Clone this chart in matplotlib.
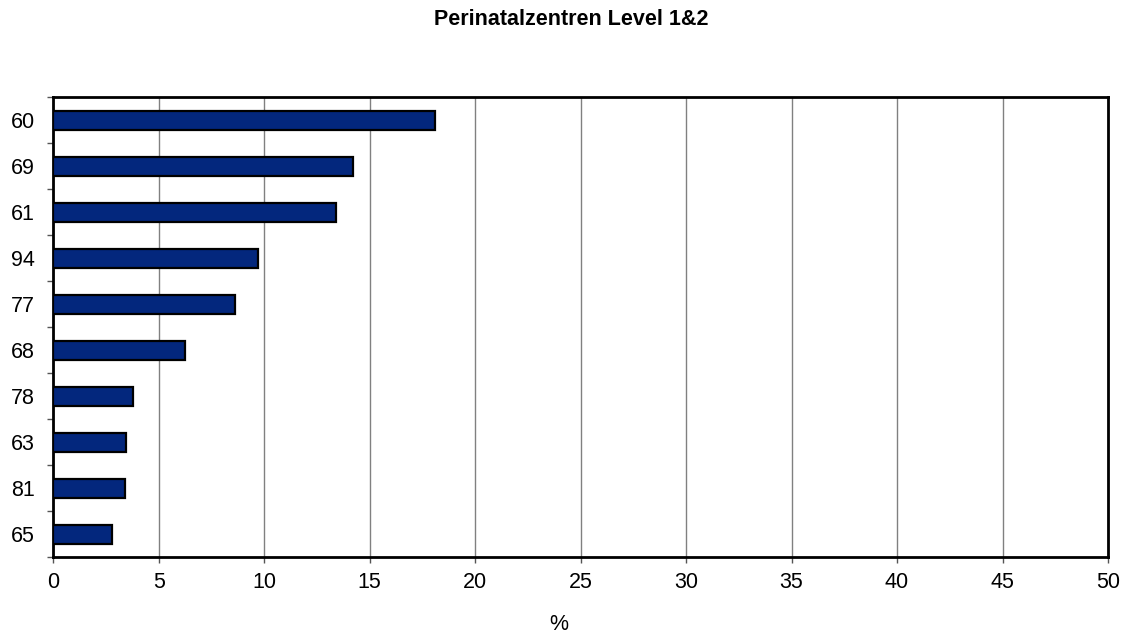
import matplotlib

matplotlib.use("Agg")
import matplotlib.pyplot as plt
import numpy as np
from matplotlib.ticker import FixedLocator

plt.rcParams["font.family"] = ["Liberation Sans", "DejaVu Sans"]

TITLE = "Perinatalzentren Level 1&2"
CATEGORIES = ["60", "69", "61", "94", "77", "68", "78", "63", "81", "65"]
VALUES = [18.1, 14.2, 13.4, 9.7, 8.6, 6.25, 3.8, 3.47, 3.38, 2.78]
X_TICKS = [0, 5, 10, 15, 20, 25, 30, 35, 40, 45, 50]
X_LABEL = "%"

BAR_COLOR = "#03277d"


def main():
    fig = plt.figure(figsize=(11.26, 6.39), dpi=100)
    ax = fig.add_axes([0.0473, 0.128, 0.9367, 0.7197])

    n = len(CATEGORIES)
    y = np.arange(n)
    ax.barh(y, VALUES, height=0.42, color=BAR_COLOR, edgecolor="black", linewidth=1.6, zorder=3)

    ax.set_xlim(0, 50)
    ax.set_ylim(n - 0.5, -0.5)
    ax.set_xticks(X_TICKS)
    ax.set_xticklabels([str(t) for t in X_TICKS], fontsize=15.5)
    ax.set_yticks(y)
    ax.set_yticklabels(CATEGORIES, fontsize=15.5)
    ax.tick_params(axis="y", length=0, pad=13.5)
    ax.yaxis.set_minor_locator(FixedLocator(np.arange(-0.5, n, 1.0)))
    ax.tick_params(axis="y", which="minor", length=4.5, width=1, color="#555555")
    ax.tick_params(axis="x", length=4, width=1, color="#555555", pad=7)

    ax.grid(axis="x", color="#808080", linewidth=1, zorder=0)
    for s in ax.spines.values():
        s.set_linewidth(2)
        s.set_color("black")

    fig.text(559 / 1126, 1 - 625 / 639, X_LABEL, ha="center", va="center", fontsize=15.5)
    fig.text(571.5 / 1126, 1 - 19.5 / 639, TITLE, ha="center", va="center", fontsize=15.5, fontweight="bold")

    fig.savefig("out.png", dpi=100)
    plt.close(fig)


if __name__ == "__main__":
    main()
